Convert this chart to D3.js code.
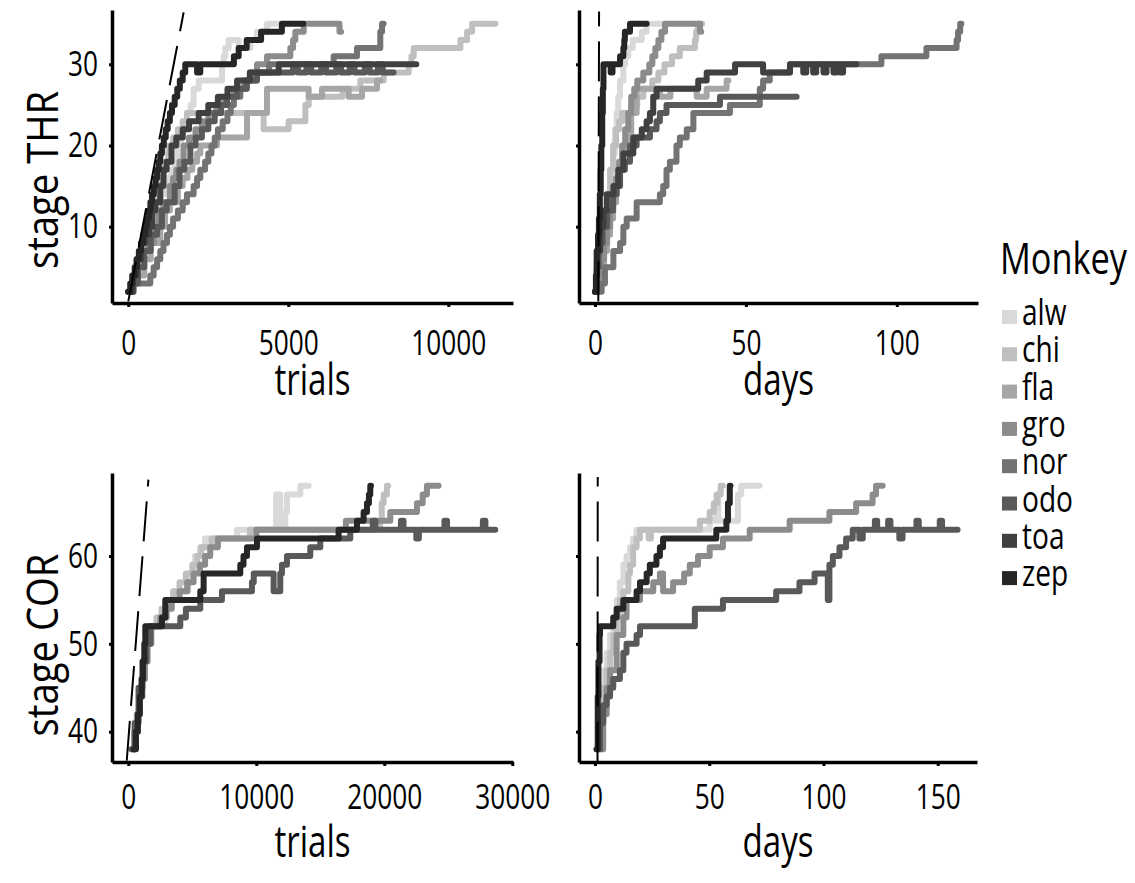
<!DOCTYPE html>
<html><head><meta charset="utf-8">
<script src="https://cdn.jsdelivr.net/npm/d3@7"></script>
<style>
body{margin:0;background:#fff;}
svg text{font-family:"Open Sans","Noto Sans","DejaVu Sans",sans-serif;fill:#000;}
</style></head><body>
<svg id="c" width="1135" height="883"></svg>
<script>
const monkeys = ["alw","chi","fla","gro","nor","odo","toa","zep"];
const monkeyColors = ["#d9d9d9","#bfbfbf","#a6a6a6","#8c8c8c","#737373","#595959","#404040","#262626"];
const thrTicks = [10,20,30];
const corTicks = [40,50,60];
const trialsThrTicks = [0,5000,10000];
const daysThrTicks = [0,50,100];
const trialsCorTicks = [0,10000,20000,30000];
const daysCorTicks = [0,50,100,150];

// ---- THR stage vs trials ----
const alwThrTrials = [[0,2],[150,4],[300,6],[450,7],[600,8],[700,10],[850,12],[1000,14],[1150,15],[1250,16],[1350,17],[1450,18],[1550,20],[1650,21],[1720,22],[1780,23],[1834,24],[1950,25],[2042,27],[2198,28],[2928,30],[2980,31],[3032,32],[3136,33],[3449,32],[3814,33],[4022,34],[4335,35],[4856,35]];
const chiThrTrials = [[0,2],[120,4],[250,6],[400,8],[600,10],[700,12],[800,13],[900,15],[1000,16],[1100,18],[1250,20],[1400,21],[1550,22],[1700,23],[1834,24],[4230,22],[5012,23],[5533,25],[5637,26],[6700,27],[7250,28],[7980,29],[8763,30],[8850,31],[8920,32],[10378,33],[10587,34],[10743,35],[11472,35]];
const flaThrTrials = [[0,2],[100,3],[300,4],[500,6],[700,8],[1000,10],[1150,12],[1300,13],[1550,15],[1700,16],[1850,17],[2000,18],[2150,19],[2250,20],[2771,21],[3709,24],[4335,27],[5637,26],[6054,27],[6888,26],[7304,27],[7773,28],[7878,28]];
const groThrTrials = [[0,2],[150,4],[300,6],[450,7],[600,8],[800,10],[950,12],[1100,13],[1300,15],[1400,16],[1500,17],[1600,18],[1730,20],[1900,21],[2100,22],[2300,23],[2500,24],[2750,25],[3000,26],[3300,27],[3605,28],[3800,29],[4022,30],[4335,31],[5064,32],[5150,33],[5220,34],[5481,35],[6600,34],[6650,34]];
const norThrTrials = [[0,2],[167,3],[687,4],[792,5],[900,6],[1000,7],[1100,8],[1208,9],[1300,10],[1400,11],[1550,12],[1700,13],[1833,14],[2042,15],[2150,16],[2250,17],[2400,18],[2500,19],[2600,20],[2700,21],[2800,22],[2950,23],[3100,24],[3200,25],[3300,26],[3500,27],[3700,28],[4000,29],[4400,30],[6417,31],[7146,32],[7875,34],[7930,35],[7979,35]];
const odoThrTrials = [[0,2],[150,3],[300,5],[500,7],[700,9],[900,10],[1050,12],[1200,13],[1450,15],[1600,17],[1750,18],[1940,20],[2100,21],[2300,22],[2500,23],[2700,24],[2900,25],[3084,26],[3400,27],[3700,28],[4022,29],[5150,30],[5300,29],[5570,30],[5720,29],[6030,30],[6180,29],[6500,30],[6650,29],[6920,30],[7070,29],[7390,30],[7540,29],[7800,30],[7950,29],[8290,29]];
const toaThrTrials = [[0,2],[130,4],[260,6],[400,8],[520,9],[650,10],[750,12],[850,13],[1000,15],[1100,17],[1200,18],[1350,20],[1500,21],[1700,22],[1900,23],[2200,24],[2500,25],[2800,26],[3100,27],[3400,28],[3800,29],[4700,30],[9000,30]];
const zepThrTrials = [[0,2],[60,3],[130,4],[200,5],[270,6],[330,7],[400,8],[460,9],[530,10],[580,11],[640,12],[690,13],[740,14],[800,15],[850,16],[900,17],[950,18],[1000,19],[1050,20],[1110,21],[1170,22],[1230,23],[1300,24],[1365,25],[1450,26],[1530,27],[1610,28],[1700,29],[1780,30],[2150,29],[2250,30],[3300,31],[3450,32],[3700,33],[4150,34],[4800,35],[5470,35]];

// ---- THR stage vs days ----
const alwThrDays = [[0,2],[1,4],[2,6],[3,8],[4,11],[5,13],[5.5,16],[6.1,19],[6.6,22],[7.2,24],[7.7,26],[8.3,28],[9.4,30],[10,31],[11,32],[12.5,33],[15.5,34],[17.1,35],[22.6,35]];
const chiThrDays = [[0,2],[1,5],[2,8],[3,11],[4,14],[5,17],[6,20],[7,22],[8,23],[9,24],[12,25],[14,26],[16,27],[19,28],[21,29],[23,30],[25.5,31],[28.1,32],[33.1,33],[33.5,34],[34,35],[35.5,35]];
const flaThrDays = [[0,2],[1,3],[2,5],[3,7],[4,9],[5,11],[6,13],[7,15],[8,17],[9,19],[10,20],[11,21],[12,24],[13.8,27],[21.5,26],[25,27],[33.7,26],[37,27],[43.6,28],[44.2,28]];
const groThrDays = [[0,2],[1,4],[2,6],[3,8],[4,10],[5,12],[6,14],[7,16],[8,18],[9,20],[10,22],[11,24],[12,26],[13,27],[14,28],[16,29],[18,30],[19,31],[20,32],[21,33],[22,34],[23.2,35],[34.8,34],[35.2,34]];
const norThrDays = [[0,2],[2.2,3],[3.3,5],[6.1,7],[8.3,8],[9.4,10],[10.5,11],[13.8,13],[21.5,14],[22.6,15],[23.7,17],[24.8,18],[27,20],[28.1,21],[30.4,22],[32.6,24],[44.7,25],[54.6,27],[55.7,28],[57.9,29],[64.6,30],[94.9,31],[109.8,32],[119.8,33],[120.3,34],[121,35],[121.4,35]];
const odoThrDays = [[0,2],[0.6,5],[1.2,8],[2.5,10],[4,12],[6,14],[7.2,15],[8.3,17],[9.9,18],[11.6,20],[13.8,21],[18.2,22],[20.4,23],[21.5,24],[23.7,25],[41.4,26],[66.8,26]];
const toaThrDays = [[0,2],[0.5,4],[0.6,7],[1.7,10],[2.8,12],[3.9,14],[6.1,15],[7.7,17],[9.4,19],[12.7,21],[15.5,22],[17.1,23],[18.2,24],[19.3,26],[20.4,27],[34.2,28],[37,29],[46.4,30],[55.7,29],[64.6,30],[69,29],[70,30],[72.3,29],[73.3,30],[75.7,29],[76.7,30],[79,29],[80,30],[81.2,29],[82.2,30],[86.6,30]];
const zepThrDays = [[0,2],[0.3,4],[0.6,7],[1,9],[1.3,11],[1.6,14],[1.9,17],[2.1,20],[2.4,24],[2.6,27],[2.8,30],[5.2,29],[5.8,30],[8.3,31],[9.4,32],[9.7,33],[9.9,34],[11.6,35],[17.1,35]];

// ---- COR stage vs trials ----
const alwCorTrials = [[300,38],[500,40],[700,42],[900,44],[1100,46],[1300,48],[1500,50],[1700,52],[2900,54],[3300,55],[4000,56],[4700,58],[5200,60],[5600,61],[6000,62],[8500,63],[11550,67],[11870,63],[12265,65],[12400,67],[13440,68],[14090,68]];
const chiCorTrials = [[250,38],[450,40],[650,42],[850,44],[1000,46],[1150,48],[1300,50],[1500,52],[2200,53],[2600,54],[3100,55],[3500,56],[4000,57],[4500,58],[5000,59],[5400,60],[5700,61],[6500,62],[9500,63],[19650,64],[19800,66],[19950,67],[20200,68],[20300,68]];
const groCorTrials = [[300,38],[500,40],[700,42],[900,44],[1100,46],[1300,48],[1500,50],[1800,52],[2500,53],[3000,54],[3400,55],[4000,56],[4600,57],[5100,58],[5600,59],[6000,60],[6400,61],[7000,62],[10000,63],[17000,64],[20468,65],[22550,66],[23000,67],[23330,68],[24240,68]];
const odoCorTrials = [[250,38],[500,41],[800,45],[1100,48],[1400,50],[1719,52],[4062,53],[4500,54],[5625,55],[7317,56],[9661,57],[9800,58],[11354,56],[11874,58],[12004,59],[12395,60],[14218,61],[15000,62],[17343,63],[19100,64],[19300,63],[21300,64],[21500,63],[22500,62],[22700,63],[24700,64],[24900,63],[27700,64],[27900,63],[28671,63]];
const zepCorTrials = [[417,38],[600,40],[750,42],[900,44],[1050,46],[1150,48],[1250,50],[1328,52],[2630,53],[2890,55],[5625,56],[5885,58],[8750,59],[9000,60],[9270,61],[10052,62],[16430,63],[17863,64],[18384,65],[18646,66],[18800,67],[18906,68],[18960,68]];

// ---- COR stage vs days ----
const alwCorDays = [[0.7,38],[1.5,41],[2.2,44],[3.6,47],[5.1,49],[6.6,51],[8,53],[9.5,55],[10.9,57],[12.4,59],[13.8,60],[15.3,61],[16.7,62],[18.2,63],[50.2,64],[53.1,67],[54,64],[62.6,67],[64,68],[72,68]];
const chiCorDays = [[1,38],[1.5,40],[2.2,42],[3.6,45],[5.1,47],[6.6,49],[8,51],[9.5,53],[10.9,55],[12.4,56],[14.6,58],[15.3,59],[16.7,61],[18.2,62],[19.7,63],[23.5,62],[24.5,63],[45.9,64],[50.2,65],[52,66],[53.5,67],[55,68],[56,68]];
const groCorDays = [[2.2,38],[3.6,42],[5.1,45],[6.6,47],[9.5,51],[12.4,53],[13.8,55],[19.7,56],[25.5,57],[28.4,58],[29.8,56],[34.2,57],[39,58],[41.5,59],[45.1,60],[50.2,61],[56,62],[67.7,63],[85.2,64],[102.6,65],[114.3,66],[121.5,67],[123,68],[125.9,68]];
const odoCorDays = [[0.7,38],[2.2,41],[3.6,43],[5.1,44],[6.6,45],[8,46],[10.9,47],[12.4,49],[13.8,50],[18.2,51],[19.7,52],[43.7,54],[56,55],[79.3,56],[89.5,57],[96.1,58],[101.9,55],[102.6,59],[104.1,60],[107,61],[109.9,62],[112.8,63],[115.7,62],[117.2,63],[122.5,64],[123.5,63],[128.3,64],[129.3,63],[133.2,62],[134.6,63],[140.7,64],[141.7,63],[150.9,64],[151.9,63],[158.7,63]];
const zepCorDays = [[0.7,38],[1.2,44],[1.5,48],[2,51],[2.2,52],[8,53],[9.5,54],[12.4,55],[18.2,56],[19.7,57],[22.6,58],[24,59],[26.9,60],[28.4,61],[29.8,62],[53.1,63],[57.5,64],[58.2,66],[59,68],[59.3,68]];

// ---- dashed reference lines ----
const refThrTrials = [[0,0.8],[1730,36.4]];
const refThrDays = [[1.1,0.8],[1.35,36.5]];
const refCorTrials = [[-120,36.7],[1570,68.7]];
const refCorDays = [[1.1,36.6],[1.2,69]];

const color = d3.scaleOrdinal().domain(monkeys).range(monkeyColors);
const svg = d3.select("#c");
const SX = 0.75; // horizontal squeeze to mimic a condensed face

const panels = [
  {series:{alw:alwThrTrials,chi:chiThrTrials,fla:flaThrTrials,gro:groThrTrials,nor:norThrTrials,odo:odoThrTrials,toa:toaThrTrials,zep:zepThrTrials},
   ref:refThrTrials, xd:[-509,12022], xr:[112,513], yd:[0.6,36.69], yr:[303,10], xt:trialsThrTicks, yt:thrTicks, ylab:true, lblPad:23, xTitle:"trials", xTitleY:395, yTitle:"stage THR", yTitleY:180},
  {series:{alw:alwThrDays,chi:chiThrDays,fla:flaThrDays,gro:groThrDays,nor:norThrDays,odo:odoThrDays,toa:toaThrDays,zep:zepThrDays},
   ref:refThrDays, xd:[-5.3,126.9], xr:[579,978], yd:[0.6,36.69], yr:[303,10], xt:daysThrTicks, yt:thrTicks, ylab:false, lblPad:23, xTitle:"days", xTitleY:395},
  {series:{alw:alwCorTrials,chi:chiCorTrials,gro:groCorTrials,odo:odoCorTrials,zep:zepCorTrials},
   ref:refCorTrials, xd:[-1273,30055], xr:[112,513], yd:[36.55,69.45], yr:[762,473], xt:trialsCorTicks, yt:corTicks, ylab:true, lblPad:18, xTitle:"trials", xTitleY:857, yTitle:"stage COR", yTitleY:645},
  {series:{alw:alwCorDays,chi:chiCorDays,gro:groCorDays,odo:odoCorDays,zep:zepCorDays},
   ref:refCorDays, xd:[-7.0,167.2], xr:[579,977], yd:[36.55,69.45], yr:[762,473], xt:daysCorTicks, yt:corTicks, ylab:false, lblPad:18, xTitle:"days", xTitleY:857}
];

function squeezedText(parent, x, y, str, size, sx, anchor) {
  return parent.append("text")
    .attr("transform", `translate(${x},${y}) scale(${sx},1)`)
    .attr("text-anchor", anchor || "start")
    .style("font-size", size + "px").text(str);
}

panels.forEach(p => {
  const x = d3.scaleLinear().domain(p.xd).range(p.xr);
  const y = d3.scaleLinear().domain(p.yd).range(p.yr);
  const g = svg.append("g");
  const step = d3.line().x(d => x(d[0])).y(d => y(d[1])).curve(d3.curveStepAfter);
  const straight = d3.line().x(d => x(d[0])).y(d => y(d[1]));
  monkeys.filter(m => p.series[m]).forEach(m => {
    g.append("path").attr("d", step(p.series[m]))
      .attr("fill","none").attr("stroke", color(m)).attr("stroke-width",6)
      .attr("stroke-linejoin","round").attr("stroke-linecap","round");
  });
  g.append("path").attr("d", straight(p.ref)).attr("fill","none")
    .attr("stroke","#000").attr("stroke-width",2).attr("stroke-dasharray","40,15");

  const xa = g.append("g").attr("transform",`translate(0,${p.yr[0]})`)
    .call(d3.axisBottom(x).tickValues(p.xt).tickSize(4).tickSizeOuter(0).tickPadding(p.lblPad).tickFormat(d3.format("d")));
  const ya = g.append("g").attr("transform",`translate(${p.xr[0]},0)`)
    .call(d3.axisLeft(y).tickValues(p.yt).tickSize(3).tickSizeOuter(0).tickPadding(15.7).tickFormat(p.ylab ? d3.format("d") : () => ""));
  [xa, ya].forEach(a => {
    a.attr("font-family", null).attr("font-size", null);
    a.select(".domain").attr("stroke","#000").attr("stroke-width",3.5);
    a.selectAll(".tick line").attr("stroke","#000").attr("stroke-width",3);
    a.selectAll(".tick text").style("font-size","35px").attr("fill","#000")
      .attr("transform", `scale(${SX},1)`);
  });
  squeezedText(g, (p.xr[0]+p.xr[1])/2, p.xTitleY, p.xTitle, 43, 0.77, "middle");
  if (p.yTitle) {
    g.append("text").attr("transform",`translate(58,${p.yTitleY}) rotate(-90) scale(0.89,1)`)
      .attr("text-anchor","middle").style("font-size","43px").text(p.yTitle);
  }
});

// legend
const lg = svg.append("g");
squeezedText(lg, 1000, 274, "Monkey", 44, 0.78);
monkeys.forEach((m,i) => {
  const by = 325 + i*37.3;
  lg.append("rect").attr("x",1002).attr("y",by-15).attr("width",15).attr("height",14).attr("fill",color(m));
  squeezedText(lg, 1022, by, m, 36, 0.78);
});
</script>
</body></html>
